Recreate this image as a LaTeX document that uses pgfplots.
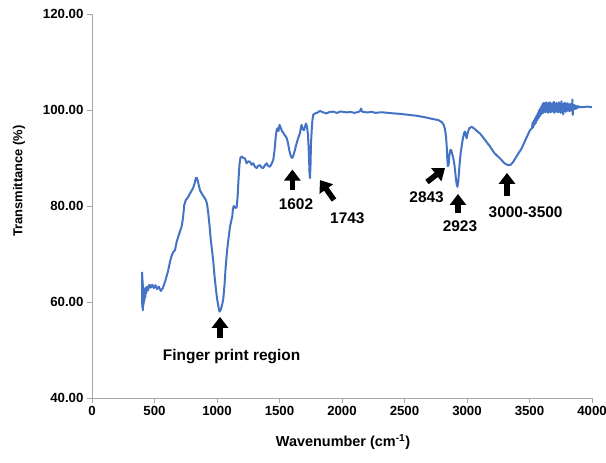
\documentclass[border=0pt]{standalone}
\usepackage{fontspec}
\setmainfont{Liberation Sans}
\usepackage{pgfplots}
\pgfplotsset{compat=1.18}
\usetikzlibrary{arrows.meta}
\definecolor{ftir}{HTML}{4472C4}
\definecolor{axgray}{HTML}{A6A6A6}

\begin{document}
\begin{tikzpicture}
\useasboundingbox (-92bp,-65bp) rectangle (514bp,398bp);
\begin{axis}[
    scale only axis,
    width=500bp, height=384bp,
    xmin=0, xmax=4000, ymin=40, ymax=120,
    axis x line*=bottom, axis y line*=left,
    axis line style={axgray, line width=0.8bp},
    tick style={axgray, line width=0.8bp},
    tick align=outside, major tick length=5bp,
    xtick={0,500,...,4000}, ytick={40,60,...,120},
    /pgf/number format/assume math mode=true,
    xticklabel style={/pgf/number format/1000 sep={}},
    yticklabel style={/pgf/number format/fixed, /pgf/number format/fixed zerofill, /pgf/number format/precision=2},
    ticklabel style={font=\bfseries\fontsize{13.3}{15}\selectfont},
    xlabel={Wavenumber (cm\textsuperscript{-1})},
    ylabel={Transmittance (\%)},
    xlabel style={font=\bfseries\fontsize{14.5}{17}\selectfont, at={(axis description cs:0.502,-0.1146)}, anchor=center},
    ylabel style={font=\bfseries\fontsize{13}{15}\selectfont, at={(axis description cs:-0.146,0.565)}, anchor=center},
    clip=false,
]
\addplot[ftir, line width=2bp, line join=round] coordinates {
(400,66.3) (401,59.5) (402,65.5) (403,58.8) (404,64.5) (405,59.2) (406,63.8) (407,58.3)
(408,63.0) (409,59.0) (410,62.5) (412,59.5) (414,62.8) (416,60.0) (418,62.6) (420,60.5)
(423,62.8) (426,61.0) (430,63.0) (434,61.8) (440,63.2) (448,62.4) (458,63.6) (470,63.0)
(482,63.6) (495,62.9)
(508,63.5) (520,62.7) (535,63.2) (550,62.3) (565,62.8) (584,64.2) (607,66.3) (625,68.5)
(637,69.6) (650,70.4) (664,70.8) (677,72.5) (690,73.6) (705,74.8) (717,75.7) (728,77.5)
(738,80.2) (750,81.2) (770,81.9) (790,82.9) (810,83.8) (822,84.8) (830,85.8) (838,85.9)
(845,85.4) (855,84.2) (865,83.2) (880,82.5) (895,81.9) (910,81.3) (920,80.5) (930,78.5)
(940,76.0) (950,73.0) (960,70.8) (970,68.5) (980,65.5) (990,63.0) (1000,60.8) (1010,59.2)
(1020,58.0) (1030,58.4) (1040,59.3) (1050,60.6) (1060,63.5) (1070,67.5) (1080,70.5)
(1090,72.8) (1104,75.7) (1115,77.0) (1122,77.8) (1128,79.5) (1135,80.0) (1145,79.6)
(1157,79.7) (1165,82.0) (1172,85.5) (1180,88.7) (1187,90.0) (1197,90.3) (1210,90.0)
(1224,89.9) (1237,88.9) (1250,89.3) (1264,89.2) (1277,88.6) (1290,88.9) (1303,88.2)
(1317,87.9) (1330,88.4) (1344,88.5) (1357,88.0) (1370,87.9) (1384,88.5) (1397,88.9)
(1410,88.3) (1424,88.2) (1437,88.8) (1450,89.6) (1460,91.5) (1470,94.5) (1477,95.8)
(1485,96.2) (1492,95.6) (1500,96.9) (1510,96.3) (1520,95.6) (1530,95.3) (1540,94.8)
(1550,94.5) (1560,94.0) (1570,92.8) (1580,91.4) (1592,90.3) (1602,90.0) (1612,90.6)
(1625,91.8) (1637,93.1) (1650,94.2) (1664,95.2) (1672,96.5) (1677,96.9) (1685,96.0)
(1696,95.8) (1705,96.6) (1712,97.2) (1720,96.5) (1728,94.8) (1735,91.0) (1740,87.0)
(1744,85.8) (1748,88.5) (1752,93.0) (1757,95.5) (1763,97.8) (1770,99.0) (1785,99.3)
(1800,99.4) (1824,99.8) (1850,99.5) (1877,99.3) (1900,99.6) (1930,99.65) (1960,99.4)
(1990,99.7) (2010,99.6) (2040,99.5) (2070,99.6) (2100,99.4) (2130,99.6) (2145,99.8)
(2152,100.3) (2160,99.7) (2170,99.6) (2200,99.5) (2240,99.6) (2270,99.4) (2300,99.5)
(2330,99.5) (2370,99.4) (2410,99.3) (2464,99.2) (2530,99.0) (2597,98.8) (2660,98.5)
(2730,98.1) (2770,97.9) (2797,97.5) (2812,97.0) (2824,96.0) (2832,94.5) (2837,92.8)
(2842,90.0) (2847,88.3) (2853,88.6) (2860,90.8) (2867,91.7) (2874,91.6) (2882,90.8)
(2890,90.0) (2900,88.5) (2910,86.0) (2917,84.6) (2923,84.0) (2930,85.0) (2940,88.5)
(2950,91.2) (2957,92.4) (2968,94.2) (2978,95.3) (2984,95.5) (2990,94.8) (2997,94.1)
(3005,95.2) (3018,96.2) (3037,96.5) (3060,96.1) (3080,95.6) (3104,95.1) (3140,93.9)
(3184,92.4) (3220,91.0) (3264,89.9) (3300,88.9) (3330,88.5) (3350,88.6) (3370,89.2)
(3400,90.5) (3437,92.0) (3470,93.9) (3504,95.8) (3520,96.2) (3525,97.4) (3530,96.4)
(3535,97.8) (3540,96.9) (3545,98.3) (3550,97.3) (3555,98.8) (3560,97.8) (3565,99.3)
(3570,98.2) (3575,99.9) (3580,98.6) (3585,100.3) (3590,99.0) (3595,100.8) (3600,99.3)
(3605,101.3) (3610,99.4) (3615,101.5) (3620,99.6) (3625,101.4) (3630,99.5) (3635,101.6)
(3640,99.7) (3645,101.3) (3650,99.4) (3655,101.5) (3660,99.8) (3665,101.6) (3670,99.5)
(3675,101.2) (3680,99.7) (3685,101.4) (3690,99.6) (3695,101.7) (3700,99.4) (3705,101.3)
(3710,99.8) (3715,101.5) (3720,99.6) (3725,101.2) (3730,99.5) (3735,101.6) (3740,99.9)
(3745,101.3) (3750,99.4) (3755,101.8) (3760,99.7) (3765,101.2) (3770,99.1) (3775,101.4)
(3780,99.8) (3785,101.5) (3790,99.6) (3795,101.2) (3800,99.8) (3805,101.4) (3810,99.9)
(3815,101.1) (3820,99.7) (3825,101.3) (3830,100.0) (3835,101.0) (3840,99.8) (3843,102.2)
(3846,99.0) (3850,101.1) (3855,100.1) (3860,101.0) (3865,100.2) (3870,100.9) (3875,100.3)
(3880,100.8) (3885,100.4) (3890,100.8) (3900,100.6) (3930,100.6) (3960,100.7) (4000,100.6)
};
% annotations
\tikzset{pk/.style={black, line width=5.5bp, -{Triangle[width=16bp,length=11bp]}},
         lb/.style={font=\bfseries\fontsize{15.5}{18}\selectfont, inner sep=0pt}}
\draw[pk] (axis cs:1024,52.5) -- (axis cs:1024,56.9);
\node[lb] at (axis cs:1117,48.6) {Finger print region};
\draw[pk] (axis cs:1603,83.3) -- (axis cs:1603,87.6);
\node[lb] at (axis cs:1632,80.4) {1602};
\draw[pk] (axis cs:1936,81.25) -- (axis cs:1824,85.4);
\node[lb] at (axis cs:2043,77.4) {1743};
\draw[pk] (axis cs:2680,85.0) -- (axis cs:2824,87.9);
\node[lb] at (axis cs:2677,81.8) {2843};
\draw[pk] (axis cs:2928,78.5) -- (axis cs:2928,82.5);
\node[lb] at (axis cs:2944,75.7) {2923};
\draw[pk] (axis cs:3320,82.1) -- (axis cs:3320,86.9);
\node[lb] at (axis cs:3469,78.8) {3000-3500};
\end{axis}
\end{tikzpicture}
\end{document}
